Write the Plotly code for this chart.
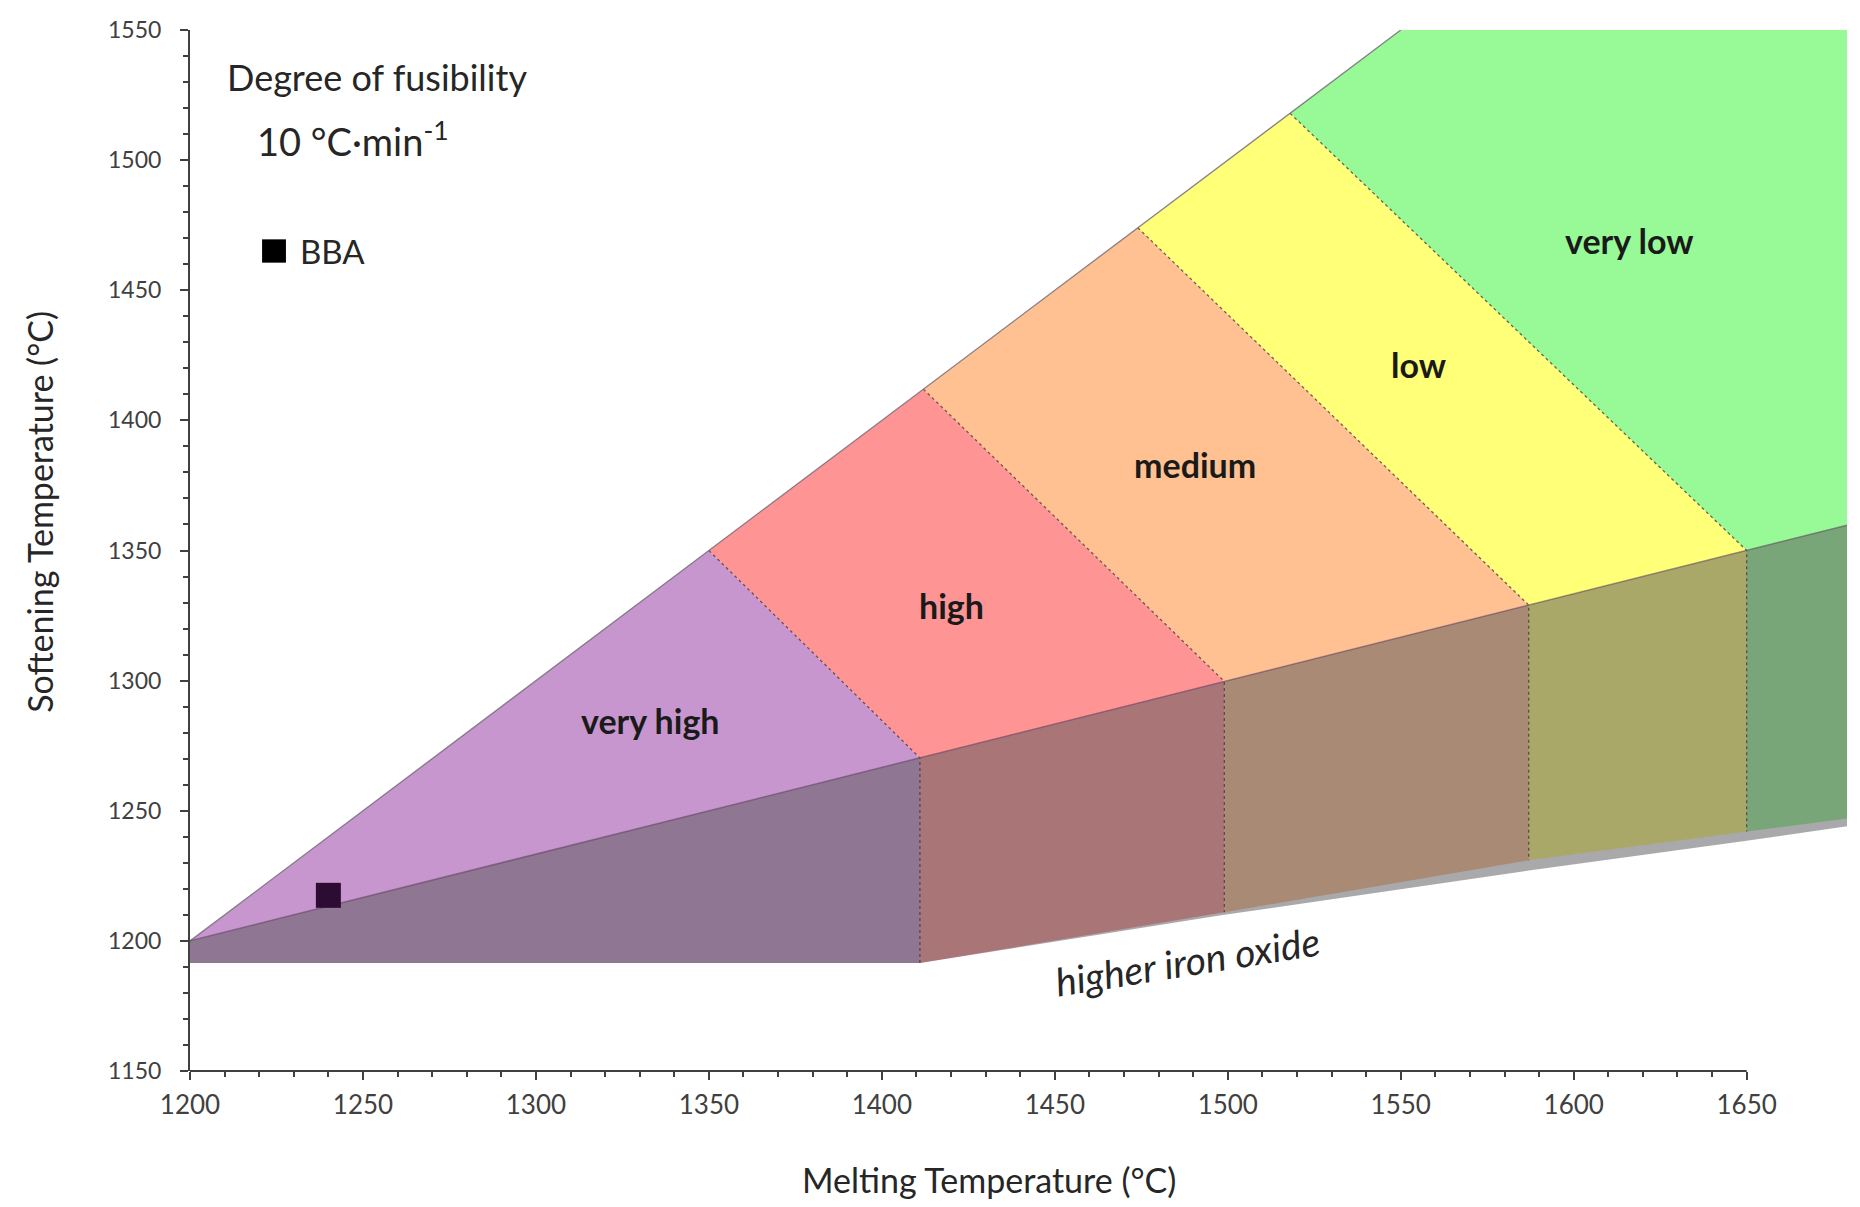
import plotly.graph_objects as go

# ---------------- data ----------------
X_TICKS = [1200, 1250, 1300, 1350, 1400, 1450, 1500, 1550, 1600, 1650]
Y_TICKS = [1150, 1200, 1250, 1300, 1350, 1400, 1450, 1500, 1550]
X_MINOR = [v for v in range(1210, 1650, 10) if v % 50 != 0]
Y_MINOR = [v for v in range(1160, 1550, 10) if v % 50 != 0]

# category borders on the upper limit line (softening = melting)
TOP_X = [1200, 1350, 1412, 1474, 1518, 1550]
# category borders on the lower limit line
LOW_X = [1200, 1411, 1499, 1587, 1650, 1679]
LOW_Y = [1200, 1270.3, 1299.7, 1329.0, 1350.0, 1359.7]
# bottom of the coloured band ("higher iron oxide" zone)
BAND_Y = [1191.5, 1191.5, 1211.0, 1231.0, 1242.0, 1247.0]
# bottom of the grey oxide shading
OXIDE_Y = [1191.5, 1191.5, 1210.0, 1227.0, 1238.5, 1244.0]
PLOT_TOP = 1550
RIGHT_X = 1679

CATEGORIES = ["very high", "high", "medium", "low", "very low"]
COLORS = ["#C896CE", "#FF9494", "#FFC191", "#FFFF78", "#98FA96"]
LABEL_X = [1333, 1420, 1490.5, 1555, 1616]
LABEL_Y = [1284.5, 1329, 1383, 1421.5, 1469]

BBA_X = [1240]
BBA_Y = [1217.5]

FONT = "Lato"
TXT = "#262626"

fig = go.Figure()

# category polygons (wedge + band)
for c in range(5):
    if c < 4:
        xs = [TOP_X[c], TOP_X[c + 1], LOW_X[c + 1], LOW_X[c + 1], LOW_X[c], LOW_X[c], TOP_X[c]]
        ys = [TOP_X[c], TOP_X[c + 1], LOW_Y[c + 1], BAND_Y[c + 1], BAND_Y[c], LOW_Y[c], TOP_X[c]]
    else:
        xs = [TOP_X[4], TOP_X[5], RIGHT_X, RIGHT_X, LOW_X[4], LOW_X[4], TOP_X[4]]
        ys = [TOP_X[4], PLOT_TOP, PLOT_TOP, BAND_Y[5], BAND_Y[4], LOW_Y[4], TOP_X[4]]
    fig.add_trace(go.Scatter(x=xs, y=ys, fill="toself", fillcolor=COLORS[c], mode="lines",
                             line=dict(width=0, color=COLORS[c]), hoverinfo="skip",
                             showlegend=False, name=CATEGORIES[c]))

# grey translucent overlay (higher iron oxide)
ox = LOW_X + LOW_X[::-1]
oy = LOW_Y + OXIDE_Y[::-1]
fig.add_trace(go.Scatter(x=ox, y=oy, fill="toself", fillcolor="rgba(90,88,92,0.52)", mode="lines",
                         line=dict(width=0), hoverinfo="skip", showlegend=False))

# dotted category dividers
for k in range(1, 5):
    fig.add_trace(go.Scatter(x=[TOP_X[k], LOW_X[k], LOW_X[k]], y=[TOP_X[k], LOW_Y[k], BAND_Y[k]],
                             mode="lines", line=dict(width=1.3, color="rgba(70,50,50,0.75)", dash="dot"),
                             hoverinfo="skip", showlegend=False))

# upper limit edge
fig.add_trace(go.Scatter(x=[TOP_X[0], TOP_X[5]], y=[TOP_X[0], TOP_X[5]], mode="lines",
                         line=dict(width=1.3, color="rgba(110,100,115,0.8)"), hoverinfo="skip",
                         showlegend=False))
# lower limit edge
fig.add_trace(go.Scatter(x=LOW_X, y=LOW_Y, mode="lines",
                         line=dict(width=1.5, color="rgba(100,70,100,0.6)"), hoverinfo="skip",
                         showlegend=False))

# BBA sample
fig.add_trace(go.Scatter(x=BBA_X, y=BBA_Y, mode="markers", name="BBA",
                         marker=dict(symbol="square", size=25, color="#2d0c33"),
                         showlegend=False))

# category labels
for lab, lx, ly in zip(CATEGORIES, LABEL_X, LABEL_Y):
    fig.add_annotation(x=lx, y=ly, text="<b>%s</b>" % lab, showarrow=False,
                       font=dict(family=FONT, size=34, color="#1a1a1a"))

fig.add_annotation(x=1488.4, y=1192.3, text="<i>higher iron oxide</i>", showarrow=False,
                   textangle=-9, font=dict(family=FONT, size=39, color="#262626"))

# x axis line only up to 1650
fig.add_shape(type="line", x0=1200, x1=1650, y0=0, y1=0, xref="x", yref="paper",
              line=dict(color="#404040", width=2))

# texts in the upper left
fig.add_annotation(x=0.0211, y=0.955, xref="paper", yref="paper", xanchor="left", yanchor="middle",
                   text="Degree of fusibility", showarrow=False,
                   font=dict(family=FONT, size=36, color=TXT))
fig.add_annotation(x=0.0393, y=0.8953, xref="paper", yref="paper", xanchor="left", yanchor="middle",
                   text="10 °C·min<sup>-1</sup>", showarrow=False,
                   font=dict(family=FONT, size=38, color=TXT))
fig.add_shape(type="rect", xref="paper", yref="paper",
              x0=0.0507 - 0.0072, x1=0.0507 + 0.0072, y0=0.7877 - 0.0112, y1=0.7877 + 0.0112,
              fillcolor="#000000", line=dict(width=0))
fig.add_annotation(x=0.0650, y=0.7877, xref="paper", yref="paper", xanchor="left", yanchor="middle",
                   text="BBA", showarrow=False, font=dict(family=FONT, size=33, color=TXT))

# axis titles
fig.add_annotation(x=0.4819, y=-0.1047, xref="paper", yref="paper", xanchor="center", yanchor="middle",
                   text="Melting Temperature (°C)", showarrow=False,
                   font=dict(family=FONT, size=34, color=TXT))
fig.add_annotation(x=-0.0906, y=0.537, xref="paper", yref="paper", xanchor="center", yanchor="middle",
                   text="Softening Temperature (°C)", showarrow=False, textangle=-90,
                   font=dict(family=FONT, size=34, color=TXT))

fig.update_layout(
    width=1860, height=1207,
    margin=dict(l=182, r=21, t=22, b=144),
    plot_bgcolor="white", paper_bgcolor="white",
    showlegend=False,
    xaxis=dict(range=[1200, RIGHT_X], showline=False, showgrid=False, zeroline=False,
               automargin=False,
               tickmode="array", tickvals=X_TICKS, ticktext=[str(v) for v in X_TICKS],
               ticks="outside", ticklen=8, tickwidth=2, tickcolor="#404040",
               tickfont=dict(family=FONT, size=26, color="#404040"), ticklabelstandoff=3,
               minor=dict(tickmode="array", tickvals=X_MINOR, ticks="outside", ticklen=5,
                          tickwidth=1.5, tickcolor="#404040")),
    yaxis=dict(range=[1150, 1550], showline=True, linecolor="#404040", linewidth=2,
               showgrid=False, zeroline=False, automargin=False,
               tickmode="array", tickvals=Y_TICKS, ticktext=[str(v) for v in Y_TICKS],
               ticks="outside", ticklen=8, tickwidth=2, tickcolor="#404040",
               tickfont=dict(family=FONT, size=23, color="#404040"), ticklabelstandoff=14,
               minor=dict(tickmode="array", tickvals=Y_MINOR, ticks="outside", ticklen=5,
                          tickwidth=1.5, tickcolor="#404040")),
)

fig.write_html("out.html")
